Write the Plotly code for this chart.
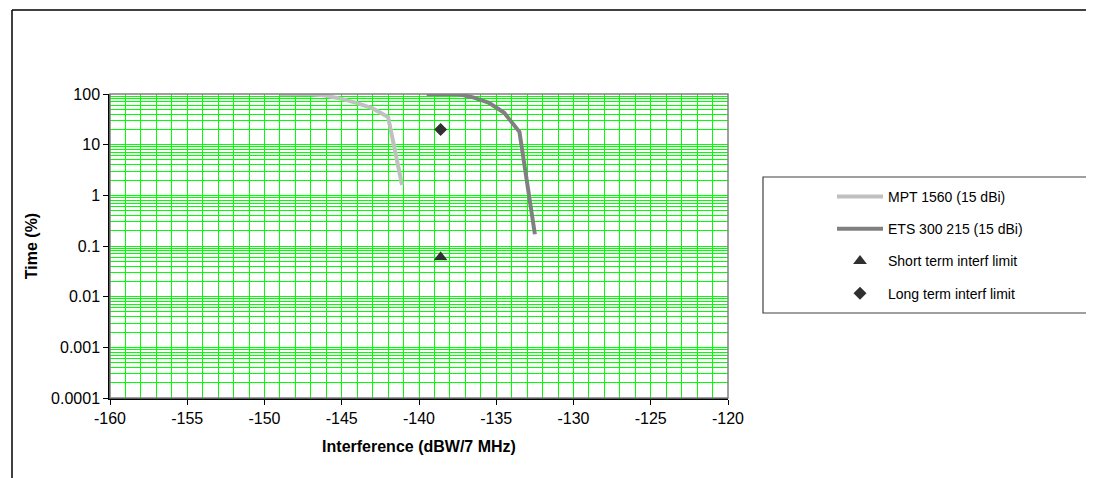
import plotly.graph_objects as go

# ---- data ----
mpt_x = [-149, -148, -147, -146, -145, -144, -143, -142, -141.1]
mpt_y = [100, 100, 100, 92, 80, 66, 52, 35, 1.6]
ets_x = [-139.5, -138.5, -137.5, -136.5, -135.5, -134.5, -133.5, -132.5]
ets_y = [100, 100, 100, 86, 68, 43, 18, 0.17]
short_x = [-138.6]
short_y = [0.06]
long_x = [-138.6]
long_y = [20]
y_tickvals = [0.0001, 0.001, 0.01, 0.1, 1, 10, 100]
y_ticktext = ["0.0001", "0.001", "0.01", "0.1", "1", "10", "100"]
x_tickvals = [-160, -155, -150, -145, -140, -135, -130, -125, -120]
x_ticktext = ["-160", "-155", "-150", "-145", "-140", "-135", "-130", "-125", "-120"]

OFF = 8  # default page body margin
W, H = 1094 - OFF, 478 - OFF
# plot area in screenshot pixel coordinates
L, R, T, B = 110, 728, 94, 398


def px(x):
    return (x - L) / (R - L)


def py(y):
    return (B - y) / (B - T)


FONT = "Liberation Sans, Arial, sans-serif"
GREEN = "#00ff00"

fig = go.Figure()
fig.add_trace(go.Scatter(x=mpt_x, y=mpt_y, mode="lines", name="MPT 1560 (15 dBi)",
                         line=dict(color="#c0c0c0", width=4), legendgroup="a"))
fig.add_trace(go.Scatter(x=ets_x, y=ets_y, mode="lines", name="ETS 300 215 (15 dBi)",
                         line=dict(color="#808080", width=4), legendgroup="b"))
fig.add_trace(go.Scatter(x=short_x, y=short_y, mode="markers", name="Short term interf limit",
                         marker=dict(symbol="triangle-up", color="#303030", size=12), legendgroup="c"))
fig.add_trace(go.Scatter(x=long_x, y=long_y, mode="markers", name="Long term interf limit",
                         marker=dict(symbol="diamond", color="#303030", size=10), legendgroup="d"))

shapes = [
    # plot area border (grey)
    dict(type="rect", xref="paper", yref="paper", x0=0, x1=1, y0=0, y1=1,
         line=dict(color="#808080", width=1.5), layer="above"),
    # outer chart frame
    dict(type="line", xref="paper", yref="paper", x0=px(12), x1=px(1100), y0=py(10), y1=py(10),
         line=dict(color="black", width=1.5)),
    dict(type="line", xref="paper", yref="paper", x0=px(12), x1=px(12), y0=py(10), y1=py(490),
         line=dict(color="black", width=1.5)),
    # legend box
    dict(type="rect", xref="paper", yref="paper", x0=px(763), x1=px(1092), y0=py(313), y1=py(177),
         line=dict(color="#404040", width=1.2), fillcolor="white", layer="below"),
]

fig.update_layout(
    width=W, height=H,
    margin=dict(l=L - OFF, r=W - (R - OFF), t=T - OFF, b=H - (B - OFF)),
    paper_bgcolor="white", plot_bgcolor="white",
    font=dict(family=FONT, size=15, color="black"),
    showlegend=True,
    legend=dict(x=px(832), y=py(181), xanchor="left", yanchor="top",
                bgcolor="rgba(0,0,0,0)", borderwidth=0,
                font=dict(family=FONT, size=14, color="black"),
                traceorder="grouped", tracegroupgap=11, itemwidth=46),
    shapes=shapes,
    xaxis=dict(range=[-160, -120], tickvals=x_tickvals, ticktext=x_ticktext,
               showgrid=True, gridcolor=GREEN, gridwidth=1,
               minor=dict(dtick=1, showgrid=True, gridcolor=GREEN, gridwidth=1, ticks=""),
               showline=True, linecolor="black", linewidth=1.5, ticks="outside", ticklen=5,
               tickcolor="black", zeroline=False, tickfont=dict(size=16),
               title=dict(text="<b>Interference (dBW/7 MHz)</b>", font=dict(size=16), standoff=15)),
    yaxis=dict(type="log", range=[-4, 2], tickvals=y_tickvals, ticktext=y_ticktext,
               showgrid=True, gridcolor=GREEN, gridwidth=1,
               minor=dict(dtick="D1", showgrid=True, gridcolor=GREEN, gridwidth=1, ticks=""),
               showline=True, linecolor="black", linewidth=1.5, ticks="outside", ticklen=5,
               tickcolor="black", zeroline=False, tickfont=dict(size=16),
               title=dict(text="<b>Time (%)</b>", font=dict(size=16), standoff=10)),
)

fig.write_html("out.html")
